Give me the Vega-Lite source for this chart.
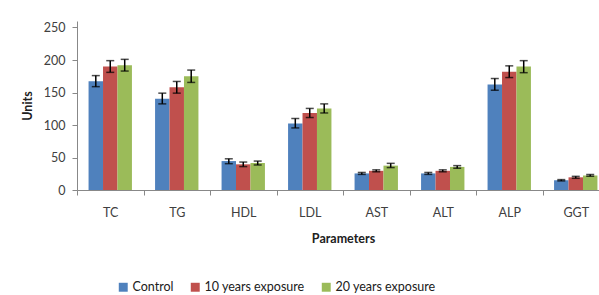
{
  "$schema": "https://vega.github.io/schema/vega-lite/v6.json",
  "autosize": "none",
  "width": 532,
  "height": 169,
  "padding": {"left": 77, "top": 21, "right": 0, "bottom": 105},
  "background": "white",
  "config": {
    "view": {"stroke": null},
    "font": "Lato",
    "axis": {"labelFont": "Lato", "titleFont": "Lato", "labelColor": "#404040", "titleColor": "#202020", "domainColor": "#888888", "tickColor": "#888888", "grid": false, "labelFontSize": 12.5, "titleFontSize": 12.5},
    "axisY": {"values": [0, 50, 100, 150, 200, 250], "labelOverlap": false, "labelBound": false, "tickSize": 5, "labelPadding": 7, "titlePadding": 9, "titleFontWeight": "bold"}
  },
  "data": {
    "values": [
      {"param": "TC", "group": "Control", "value": 167.5, "lo": 159, "hi": 176},
      {"param": "TC", "group": "10 years exposure", "value": 190, "lo": 181, "hi": 199},
      {"param": "TC", "group": "20 years exposure", "value": 192, "lo": 183, "hi": 201},
      {"param": "TG", "group": "Control", "value": 140.5, "lo": 132.5, "hi": 149},
      {"param": "TG", "group": "10 years exposure", "value": 158, "lo": 149, "hi": 167},
      {"param": "TG", "group": "20 years exposure", "value": 175, "lo": 165.5, "hi": 184.5},
      {"param": "HDL", "group": "Control", "value": 44.5, "lo": 40.5, "hi": 48},
      {"param": "HDL", "group": "10 years exposure", "value": 39.5, "lo": 36, "hi": 43},
      {"param": "HDL", "group": "20 years exposure", "value": 41.5, "lo": 38.5, "hi": 44.5},
      {"param": "LDL", "group": "Control", "value": 102.5, "lo": 95.5, "hi": 110},
      {"param": "LDL", "group": "10 years exposure", "value": 118.5, "lo": 111.5, "hi": 125.5},
      {"param": "LDL", "group": "20 years exposure", "value": 125.5, "lo": 118.5, "hi": 132.5},
      {"param": "AST", "group": "Control", "value": 25.5, "lo": 24, "hi": 27},
      {"param": "AST", "group": "10 years exposure", "value": 29.5, "lo": 28, "hi": 31},
      {"param": "AST", "group": "20 years exposure", "value": 37.5, "lo": 34.5, "hi": 41},
      {"param": "ALT", "group": "Control", "value": 25.5, "lo": 24, "hi": 27},
      {"param": "ALT", "group": "10 years exposure", "value": 29.5, "lo": 28, "hi": 31},
      {"param": "ALT", "group": "20 years exposure", "value": 35.5, "lo": 33.5, "hi": 37.5},
      {"param": "ALP", "group": "Control", "value": 162.5, "lo": 153.5, "hi": 171.5},
      {"param": "ALP", "group": "10 years exposure", "value": 182, "lo": 173, "hi": 191},
      {"param": "ALP", "group": "20 years exposure", "value": 190, "lo": 180.5, "hi": 199},
      {"param": "GGT", "group": "Control", "value": 15, "lo": 14, "hi": 16},
      {"param": "GGT", "group": "10 years exposure", "value": 19.5, "lo": 18, "hi": 21},
      {"param": "GGT", "group": "20 years exposure", "value": 22.5, "lo": 21, "hi": 24}
    ]
  },
  "encoding": {
    "x": {
      "field": "param", "type": "nominal", "sort": null,
      "scale": {"paddingInner": 0, "paddingOuter": 0},
      "axis": {"title": "Parameters", "labelAngle": 0, "tickBand": "extent", "tickSize": 5, "labelPadding": 11, "titlePadding": 14, "titleFontWeight": "bold"}
    },
    "xOffset": {
      "field": "group", "type": "nominal", "sort": ["Control", "10 years exposure", "20 years exposure"],
      "scale": {"paddingInner": 0, "paddingOuter": 0.8}
    }
  },
  "layer": [
    {
      "mark": {"type": "bar"},
      "encoding": {
        "y": {"field": "value", "type": "quantitative", "scale": {"domain": [0, 250]}, "title": "Units"},
        "color": {
          "field": "group", "type": "nominal", "sort": ["Control", "10 years exposure", "20 years exposure"],
          "scale": {"domain": ["Control", "10 years exposure", "20 years exposure"], "range": ["#4F81BD", "#C0504D", "#9BBB59"]},
          "legend": {"title": null, "orient": "none", "direction": "horizontal", "legendX": 40, "legendY": 260, "symbolType": "square", "symbolSize": 80, "symbolStrokeWidth": 0, "labelFontSize": 12.5, "labelColor": "#202020", "columnPadding": 15, "labelOffset": 3, "gridAlign": "none"}
        }
      }
    },
    {
      "mark": {"type": "rule", "color": "black", "strokeWidth": 1.5},
      "encoding": {
        "y": {"field": "lo", "type": "quantitative", "title": "Units"},
        "y2": {"field": "hi"}
      }
    },
    {
      "mark": {"type": "tick", "color": "black", "thickness": 1.5, "size": 8, "orient": "horizontal"},
      "encoding": {"y": {"field": "lo", "type": "quantitative", "title": "Units"}}
    },
    {
      "mark": {"type": "tick", "color": "black", "thickness": 1.5, "size": 8, "orient": "horizontal"},
      "encoding": {"y": {"field": "hi", "type": "quantitative", "title": "Units"}}
    }
  ]
}
